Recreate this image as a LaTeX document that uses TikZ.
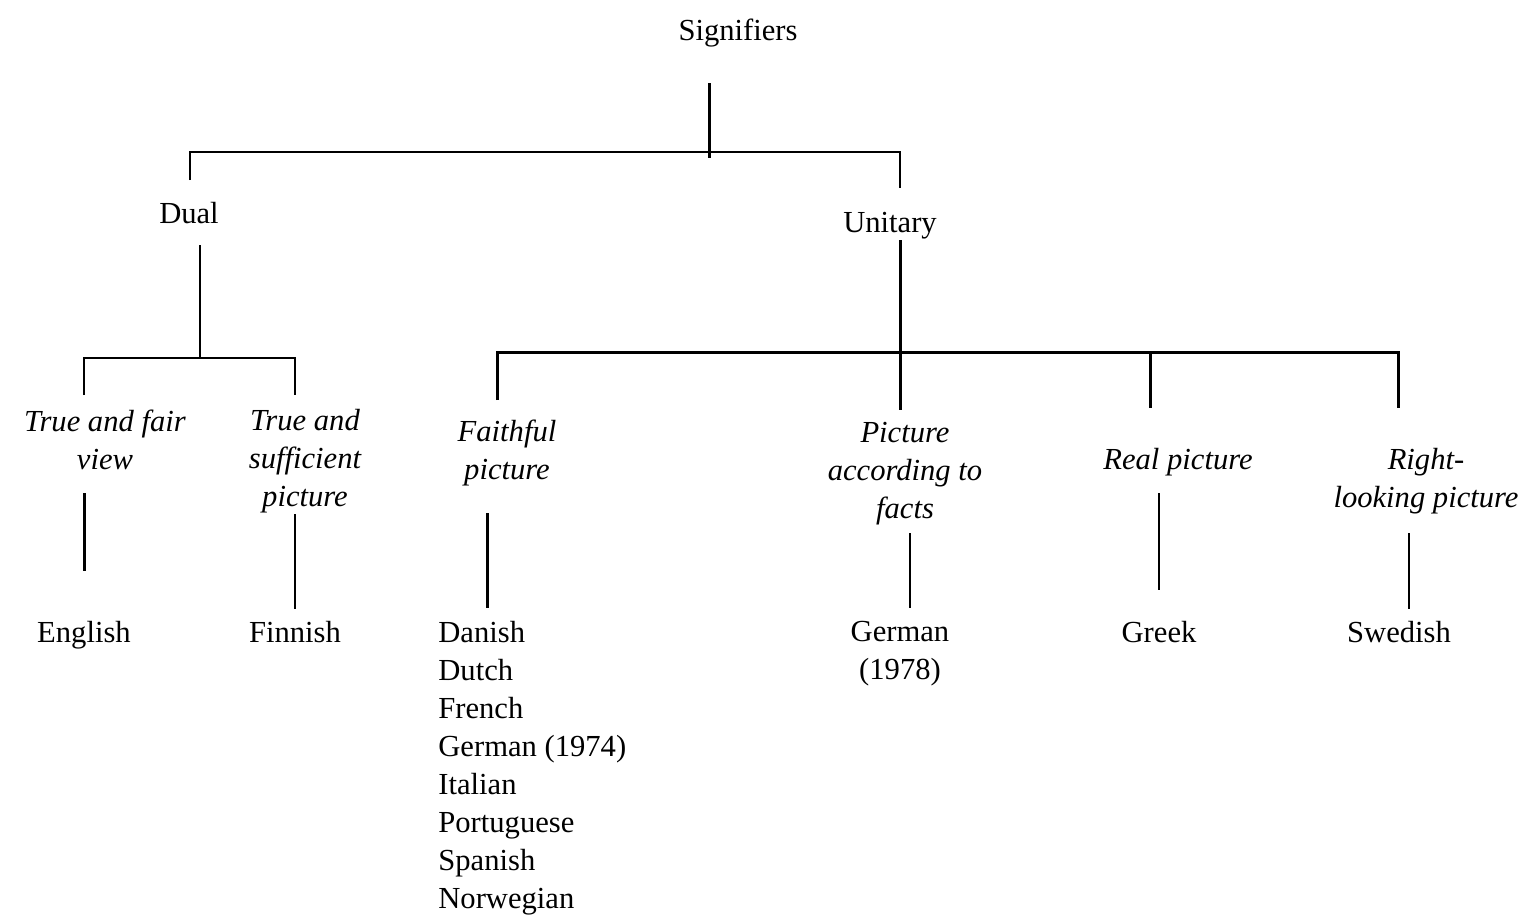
\documentclass[tikz,border=0pt]{standalone}
\usepackage{fontspec}
\setmainfont{Liberation Serif}
\begin{document}
\begin{tikzpicture}[x=0.5pt,y=-0.5pt,
  lbl/.style={inner sep=0pt,font=\fontsize{15.3}{19}\selectfont},
  ilbl/.style={lbl,align=center,font=\fontsize{15.3}{19}\selectfont\itshape},
  thinln/.style={line width=0.6pt},
  medln/.style={line width=1.0pt},
  thickln/.style={line width=1.5pt}]
\useasboundingbox (0,0) rectangle (1522,922);
% top level
\node[lbl,anchor=base] (sig) at (738,40) {Signifiers};
\node[lbl,anchor=base] (dual) at (189,223) {Dual};
\node[lbl,anchor=base] (unit) at (890,232) {Unitary};
% leaf labels
\node[ilbl] (tfv) at (105,440) {True and fair\\view};
\node[ilbl] (tsp) at (305,461) {True and\\sufficient\\picture};
\node[ilbl] (fp) at (507,453) {Faithful\\picture};
\node[ilbl] (paf) at (905,474) {Picture\\according to\\facts};
\node[ilbl] (rp) at (1178,462) {Real picture};
\node[ilbl] (rlp) at (1426,481) {Right-\hspace{12pt}\\looking picture};
% languages
\node[lbl,anchor=base] (en) at (84,642) {English};
\node[lbl,anchor=base] (fi) at (295,642) {Finnish};
\node[lbl,align=center] (de78) at (900,654) {German\\(1978)};
\node[lbl,anchor=base] (gr) at (1159,642) {Greek};
\node[lbl,anchor=base] (sv) at (1399,642) {Swedish};
\node[lbl,anchor=base west] (l1) at (438,642) {Danish};
\node[lbl,anchor=base west] (l2) at (438,680) {Dutch};
\node[lbl,anchor=base west] (l3) at (438,718) {French};
\node[lbl,anchor=base west] (l4) at (438,756) {German (1974)};
\node[lbl,anchor=base west] (l5) at (438,794) {Italian};
\node[lbl,anchor=base west] (l6) at (438,832) {Portuguese};
\node[lbl,anchor=base west] (l7) at (438,870) {Spanish};
\node[lbl,anchor=base west] (l8) at (438,908) {Norwegian};
% junction coordinates
\coordinate (s0) at (709,83);
\coordinate (s1) at (709,158);
\coordinate (hL) at (190,152);
\coordinate (hR) at (900,152);
\coordinate (dTop) at (190,180);
\coordinate (uTop) at (900,188);
\coordinate (dv0) at (200,245);
\coordinate (dv1) at (200,358);
\coordinate (dhL) at (84,358);
\coordinate (dhR) at (295,358);
\coordinate (dL1) at (84,395);
\coordinate (dR1) at (295,395);
\coordinate (uv0) at (900,240);
\coordinate (uv1) at (900,410);
\coordinate (uhL) at (497,352);
\coordinate (uhR) at (1398,352);
\coordinate (u1) at (497,400);
\coordinate (u3a) at (1150,352);
\coordinate (u3) at (1150,408);
\coordinate (u4) at (1398,408);
% connectors
\draw[thickln] (s0) -- (s1);
\draw[medln] (dTop) -- (hL) -- (hR) -- (uTop);
\draw[thinln] (dv0) -- (dv1);
\draw[medln] (dL1) -- (dhL) -- (dhR) -- (dR1);
\draw[thickln] (uv0) -- (uv1);
\draw[thickln] (u1) -- (uhL) -- (uhR) -- (u4);
\draw[thickln] (u3a) -- (u3);
% lower connectors
\coordinate (e0) at (84,493);  \coordinate (e1) at (84,571);
\coordinate (f0) at (295,514); \coordinate (f1) at (295,609);
\coordinate (a0) at (487,513); \coordinate (a1) at (487,608);
\coordinate (p0) at (910,533); \coordinate (p1) at (910,608);
\coordinate (g0) at (1159,493);\coordinate (g1) at (1159,590);
\coordinate (w0) at (1409,533);\coordinate (w1) at (1409,609);
\draw[thickln] (e0) -- (e1);
\draw[thinln] (f0) -- (f1);
\draw[thickln] (a0) -- (a1);
\draw[medln] (p0) -- (p1);
\draw[thinln] (g0) -- (g1);
\draw[thinln] (w0) -- (w1);
\end{tikzpicture}
\end{document}
